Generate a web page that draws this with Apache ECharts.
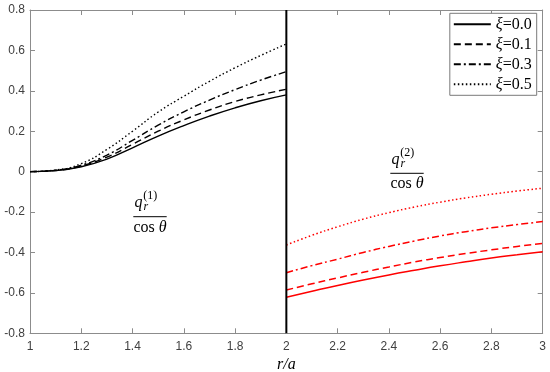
<!DOCTYPE html>
<html>
<head>
<meta charset="utf-8">
<script src="https://cdn.jsdelivr.net/npm/echarts@6/dist/echarts.min.js"></script>
<style>
html,body{margin:0;padding:0;background:#fff;}
#chart{width:550px;height:372px;}
</style>
</head>
<body>
<div id="chart"></div>
<script>
// ---- data ----
const rLeft  = [1.0, 1.1, 1.2, 1.3, 1.4, 1.5, 1.6, 1.7, 1.8, 1.9, 2.0];
const rRight = [2.0, 2.1, 2.2, 2.3, 2.4, 2.5, 2.6, 2.7, 2.8, 2.9, 3.0];
const seriesNames = ['ξ=0.0', 'ξ=0.1', 'ξ=0.3', 'ξ=0.5'];
// region 1 (black), q_r^(1)/cos θ
const q1_xi00 = [0, 0.005, 0.024, 0.062, 0.118, 0.176, 0.228, 0.275, 0.316, 0.351, 0.380];
const q1_xi01 = [0, 0.006, 0.028, 0.072, 0.135, 0.200, 0.256, 0.305, 0.347, 0.380, 0.408];
const q1_xi03 = [0, 0.007, 0.032, 0.082, 0.155, 0.230, 0.296, 0.354, 0.406, 0.453, 0.495];
const q1_xi05 = [0, 0.008, 0.040, 0.110, 0.200, 0.295, 0.373, 0.447, 0.514, 0.575, 0.632];
// region 2 (red), q_r^(2)/cos θ
const q2_xi00 = [-0.622, -0.592, -0.563, -0.536, -0.511, -0.488, -0.466, -0.446, -0.427, -0.411, -0.396];
const q2_xi01 = [-0.586, -0.555, -0.526, -0.498, -0.472, -0.447, -0.425, -0.405, -0.387, -0.370, -0.355];
const q2_xi03 = [-0.500, -0.465, -0.433, -0.400, -0.370, -0.343, -0.318, -0.297, -0.278, -0.262, -0.247];
const q2_xi05 = [-0.363, -0.315, -0.273, -0.235, -0.203, -0.175, -0.151, -0.130, -0.112, -0.096, -0.082];
// interface line r/a = 2
const interfaceX = [2, 2];
const interfaceY = [-0.8, 0.8];

const xTicks = {min: 1, max: 3, interval: 0.2};
const yTicks = {min: -0.8, max: 0.8, interval: 0.2};

// ---- styles ----
const dashTypes = ['solid', [7, 4], [7, 3, 2, 3], [1.5, 2.5]];
const leftData = [q1_xi00, q1_xi01, q1_xi03, q1_xi05];
const rightData = [q2_xi00, q2_xi01, q2_xi03, q2_xi05];
const zip = (xs, ys) => xs.map((x, i) => [x, ys[i]]);

const series = [];
leftData.forEach((d, i) => {
  series.push({
    name: seriesNames[i], type: 'line', data: zip(rLeft, d), smooth: 0.5,
    symbol: 'none', lineStyle: {color: '#000', width: 1.4, type: dashTypes[i]},
    itemStyle: {color: '#000'}, z: 3
  });
});
rightData.forEach((d, i) => {
  series.push({
    name: 'r2_' + i, type: 'line', data: zip(rRight, d), smooth: 0.5,
    symbol: 'none', lineStyle: {color: '#ff0000', width: 1.5, type: dashTypes[i]},
    itemStyle: {color: '#ff0000'}, z: 3
  });
});
series.push({
  name: 'interface', type: 'line', data: zip(interfaceX, interfaceY),
  symbol: 'none', lineStyle: {color: '#000', width: 2}, z: 4
});

const serif = 'Liberation Serif, Times New Roman, serif';
function fraction(cx, barY, label) {
  return [
    {type: 'text', style: {text: 'q', x: cx - 15.5, y: barY - 13.8, fill: '#000',
      font: 'italic 16px ' + serif, align: 'left', verticalAlign: 'middle'}},
    {type: 'text', style: {text: 'r', x: cx - 6.5, y: barY - 9.6, fill: '#000',
      font: 'italic 12px ' + serif, align: 'left', verticalAlign: 'middle'}},
    {type: 'text', style: {text: label, x: cx - 6.7, y: barY - 20.6, fill: '#000',
      font: '12px ' + serif, align: 'left', verticalAlign: 'middle'}},
    {type: 'line', shape: {x1: cx - 16.7, y1: barY, x2: cx + 16.7, y2: barY},
      style: {stroke: '#000', lineWidth: 1}},
    {type: 'text', style: {text: '{a|cos }{b|θ}', x: cx, y: barY + 10.7, fill: '#000',
      align: 'center', verticalAlign: 'middle',
      rich: {a: {font: '16px ' + serif, fill: '#000'}, b: {font: 'italic 16px ' + serif, fill: '#000'}}}}
  ];
}

const axisLineColor = '#8c8c8c';
const labelColor = '#404040';
const sans = 'Liberation Sans, Arial, Helvetica, sans-serif';

const option = {
  backgroundColor: '#fff',
  animation: false,
  grid: {left: 30, right: 7.3, top: 10, bottom: 38.7, containLabel: false, outerBoundsMode: 'none'},
  legend: {
    data: seriesNames, orient: 'vertical', right: 13.3, top: 13.3,
    itemWidth: 37, itemHeight: 14, itemGap: 4,
    itemStyle: {opacity: 0},
    backgroundColor: '#fff', borderColor: '#7a7a7a', borderWidth: 1, borderRadius: 0,
    padding: [3, 5, 3, 3],
    textStyle: {fontFamily: serif, fontSize: 16, color: '#000',
      rich: {i: {fontFamily: serif, fontSize: 16, fontStyle: 'italic', color: '#000'}}},
    formatter: (n) => '{i|ξ}' + n.slice(1)
  },
  xAxis: [
    {type: 'value', position: 'bottom', min: xTicks.min, max: xTicks.max, interval: xTicks.interval,
      name: 'r/a', nameLocation: 'middle', nameGap: 22,
      nameTextStyle: {fontFamily: serif, fontStyle: 'italic', fontSize: 16, color: '#000'},
      axisLine: {show: true, onZero: false, lineStyle: {color: axisLineColor, width: 1}},
      axisTick: {show: true, inside: true, length: 5, lineStyle: {color: axisLineColor}},
      axisLabel: {color: labelColor, fontFamily: sans, fontSize: 12, margin: 7},
      splitLine: {show: false}},
    {type: 'value', position: 'top', min: xTicks.min, max: xTicks.max, interval: xTicks.interval,
      axisLine: {show: true, onZero: false, lineStyle: {color: axisLineColor, width: 1}},
      axisTick: {show: true, inside: true, length: 5, lineStyle: {color: axisLineColor}},
      axisLabel: {show: false}, splitLine: {show: false}}
  ],
  yAxis: [
    {type: 'value', position: 'left', min: yTicks.min, max: yTicks.max, interval: yTicks.interval,
      axisLine: {show: true, onZero: false, lineStyle: {color: axisLineColor, width: 1}},
      axisTick: {show: true, inside: true, length: 5, lineStyle: {color: axisLineColor}},
      axisLabel: {color: labelColor, fontFamily: sans, fontSize: 12, margin: 5},
      splitLine: {show: false}},
    {type: 'value', position: 'right', min: yTicks.min, max: yTicks.max, interval: yTicks.interval,
      axisLine: {show: true, onZero: false, lineStyle: {color: axisLineColor, width: 1}},
      axisTick: {show: true, inside: true, length: 5, lineStyle: {color: axisLineColor}},
      axisLabel: {show: false}, splitLine: {show: false}}
  ],
  graphic: [].concat(fraction(150, 216.7, '(1)'), fraction(407, 173.3, '(2)')),
  series: series
};

const chart = echarts.init(document.getElementById('chart'), null, {renderer: 'canvas'});
chart.setOption(option);
</script>
</body>
</html>
